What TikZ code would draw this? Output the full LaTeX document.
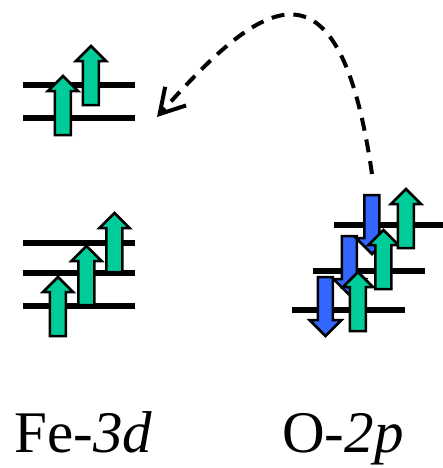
\documentclass[tikz,border=0pt]{standalone}
\usepackage{fontspec}
\setmainfont{Liberation Serif}
\usetikzlibrary{arrows.meta}
\definecolor{upcolor}{RGB}{0,204,153}
\definecolor{downcolor}{RGB}{51,102,255}

\begin{document}
\begin{tikzpicture}[
    x=0.5pt, y=-0.5pt,
    level/.style={draw, line width=3pt},
    spin/.style={draw=black, line width=1.25pt, line join=miter},
    spinup/.pic={\path[spin, fill=upcolor] (-8,0) -- (-8,-44) -- (-15,-44) -- (0,-59) -- (15,-44) -- (8,-44) -- (8,0) -- cycle;},
    spindown/.pic={\path[spin, fill=downcolor] (-7.5,0) -- (-7.5,43) -- (-16,43) -- (0,59) -- (16,43) -- (7.5,43) -- (7.5,0) -- cycle;},
    hop/.style={line width=2pt, dash pattern=on 6.5pt off 4.5pt, -{Straight Barb[length=12pt, width=14pt]}},
    orbital/.style={font=\fontsize{29.5}{30}\selectfont, anchor=base west, inner sep=0pt}
]
\useasboundingbox (0,0) rectangle (443,468);

% Fe-3d levels
\draw[level] (23,85) -- (135,85);
\draw[level] (23,118) -- (135,118);
\draw[level] (23,243) -- (135,243);
\draw[level] (23,273) -- (135,273);
\draw[level] (23,306) -- (135,306);

% O-2p levels
\draw[level] (334,225) -- (443,225);
\draw[level] (313,271) -- (425,271);
\draw[level] (292,310) -- (405,310);

% Fe spins
\pic at (63,135) {spinup};
\pic at (91,105) {spinup};
\pic at (58,336) {spinup};
\pic at (86.5,305) {spinup};
\pic at (114.5,272) {spinup};

% O spins
\pic at (325.5,277) {spindown};
\pic at (349.5,236) {spindown};
\pic at (372,195) {spindown};
\pic at (358,331) {spinup};
\pic at (383.5,289) {spinup};
\pic at (406,248) {spinup};

% hopping
\coordinate (hopstart) at (372,174);
\coordinate (hopend) at (157,117);
\draw[hop] (hopstart) .. controls +(-34,-236) and +(100,-112) .. (hopend);

% labels
\node[orbital] (fe) at (14,452) {Fe-\textit{3d}};
\node[orbital] (o) at (282,452) {O-\textit{2p}};

\end{tikzpicture}
\end{document}
